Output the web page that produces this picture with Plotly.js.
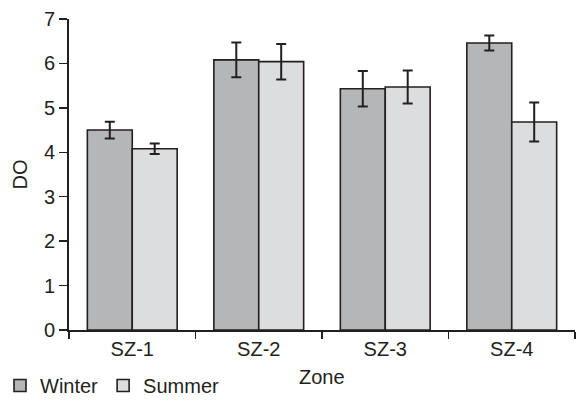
<!DOCTYPE html>
<html>
<head>
<meta charset="utf-8">
<script src="https://cdn.plot.ly/plotly-3.0.1.min.js"></script>
<style>
html,body{margin:0;padding:0;background:#fff;}
#chart{width:580px;height:405px;}
</style>
</head>
<body>
<div id="chart"></div>
<script>
const zones = ["SZ-1", "SZ-2", "SZ-3", "SZ-4"];
const winterDO = [4.50, 6.08, 5.43, 6.46];
const winterErr = [0.19, 0.39, 0.40, 0.17];
const summerDO = [4.08, 6.04, 5.47, 4.68];
const summerErr = [0.12, 0.40, 0.37, 0.44];
const yTicks = [0, 1, 2, 3, 4, 5, 6, 7];
const xTitle = "Zone";
const yTitle = "DO";

const ink = "#231f20";
const font = {family: "Liberation Sans, Arial, sans-serif", size: 20, color: ink};

const traces = [
  {
    type: "bar", name: "Winter", x: zones, y: winterDO,
    marker: {color: "#b5b6b8", line: {color: ink, width: 1.6}},
    error_y: {type: "data", array: winterErr, visible: true, color: ink, thickness: 2, width: 5}
  },
  {
    type: "bar", name: "Summer", x: zones, y: summerDO,
    marker: {color: "#dcdddf", line: {color: ink, width: 1.6}},
    error_y: {type: "data", array: summerErr, visible: true, color: ink, thickness: 2, width: 5}
  }
];

const layout = {
  width: 580, height: 405,
  margin: {l: 69, r: 5, t: 19, b: 75},
  paper_bgcolor: "#fff", plot_bgcolor: "#fff",
  font: font,
  barmode: "group", bargap: 0.29, bargroupgap: 0,
  showlegend: true,
  legend: {
    orientation: "h", xref: "container", yref: "container",
    x: -0.03, y: -0.02, xanchor: "left", yanchor: "bottom",
    font: font, traceorder: "normal",
    bgcolor: "rgba(0,0,0,0)"
  },
  annotations: [{
    text: xTitle, xref: "paper", yref: "paper", x: 0.5, y: 0,
    xanchor: "center", yanchor: "top", yshift: -34, showarrow: false, font: font
  }],
  xaxis: {
    type: "category", showline: true, linecolor: ink, linewidth: 2,
    ticks: "outside", tickson: "boundaries", ticklen: 7, tickwidth: 1.5, tickcolor: ink,
    showgrid: false, zeroline: false, automargin: false,
    tickfont: font
  },
  yaxis: {
    range: [0, 7], tickvals: yTicks, showline: true, linecolor: ink, linewidth: 2,
    ticks: "outside", ticklen: 8, tickwidth: 1.5, tickcolor: ink,
    showgrid: false, zeroline: false, automargin: false,
    title: {text: yTitle, font: font, standoff: 11},
    tickfont: font
  }
};

Plotly.newPlot("chart", traces, layout, {displayModeBar: false, staticPlot: true});
</script>
</body>
</html>
